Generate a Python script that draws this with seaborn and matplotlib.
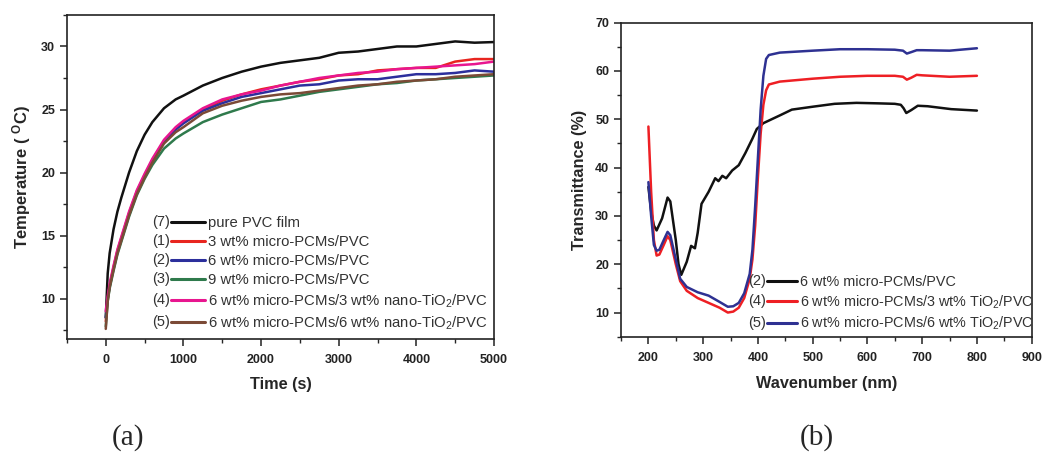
import numpy as np
import pandas as pd
import matplotlib
matplotlib.use("Agg")
import matplotlib.pyplot as plt
import seaborn as sns
from matplotlib.ticker import MultipleLocator

# ---------------- data (a) ----------------
time_s = [0, 25, 50, 100, 150, 200, 300, 400, 500, 600, 750, 900, 1000, 1250, 1500,
          1750, 2000, 2250, 2500, 2750, 3000, 3250, 3500, 3750, 4000, 4250, 4500, 4750, 5000]
t_pure = [8.5, 12.0, 13.6, 15.5, 16.9, 18.0, 20.0, 21.7, 23.0, 24.0, 25.1, 25.8, 26.1, 26.9, 27.5,
          28.0, 28.4, 28.7, 28.9, 29.1, 29.5, 29.6, 29.8, 30.0, 30.0, 30.2, 30.4, 30.3, 30.35]
t_3wt = [8.2, 10.0, 11.0, 12.5, 13.8, 14.8, 16.8, 18.5, 19.8, 21.0, 22.5, 23.5, 24.0, 25.0, 25.7,
         26.2, 26.6, 26.9, 27.2, 27.4, 27.7, 27.8, 28.1, 28.2, 28.3, 28.3, 28.8, 29.0, 29.0]
t_6wt = [8.5, 10.0, 11.0, 12.4, 13.7, 14.7, 16.7, 18.4, 19.7, 20.9, 22.4, 23.4, 23.9, 24.9, 25.5,
         26.0, 26.3, 26.6, 26.9, 27.0, 27.3, 27.4, 27.4, 27.6, 27.8, 27.8, 27.9, 28.1, 28.0]
t_9wt = [7.8, 9.8, 10.8, 12.2, 13.5, 14.5, 16.5, 18.2, 19.5, 20.6, 21.9, 22.7, 23.1, 24.0, 24.6,
         25.1, 25.6, 25.8, 26.1, 26.4, 26.6, 26.8, 27.0, 27.1, 27.3, 27.4, 27.5, 27.6, 27.7]
t_6_3ti = [9.0, 10.2, 11.2, 12.6, 13.9, 14.9, 16.9, 18.6, 19.9, 21.1, 22.6, 23.6, 24.1, 25.1, 25.8,
           26.2, 26.5, 26.9, 27.2, 27.5, 27.7, 27.9, 28.0, 28.2, 28.3, 28.4, 28.5, 28.6, 28.8]
t_6_6ti = [7.6, 9.8, 10.9, 12.3, 13.6, 14.6, 16.6, 18.3, 19.6, 20.8, 22.3, 23.2, 23.6, 24.7, 25.3,
           25.7, 26.0, 26.2, 26.3, 26.5, 26.7, 26.9, 27.0, 27.2, 27.3, 27.4, 27.6, 27.7, 27.8]

labels_a = ["pure PVC film", "3 wt% micro-PCMs/PVC", "6 wt% micro-PCMs/PVC",
            "9 wt% micro-PCMs/PVC", "6 wt% micro-PCMs/3 wt% nano-TiO$_2$/PVC",
            "6 wt% micro-PCMs/6 wt% nano-TiO$_2$/PVC"]
nums_a = ["(7)", "(1)", "(2)", "(3)", "(4)", "(5)"]
colors_a = ["#111111", "#e8251f", "#2c2f9c", "#2f7a4c", "#e8168f", "#7b4a36"]

# ---------------- data (b) ----------------
wl_black = [200, 205, 210, 215, 225, 235, 240, 250, 255, 260, 270, 278, 285, 290, 297, 310, 322,
            328, 335, 342, 353, 365, 377, 390, 398, 410, 425, 440, 462, 500, 540, 580, 619, 650,
            661, 666, 671, 680, 692, 710, 753, 800]
tr_black = [36.0, 31.0, 28.0, 27.0, 29.5, 33.8, 33.0, 25.0, 20.0, 17.8, 20.5, 23.8, 23.3, 26.5,
            32.5, 35.0, 37.8, 37.2, 38.3, 37.8, 39.4, 40.5, 43.0, 46.0, 48.0, 49.2, 50.0, 50.8,
            52.0, 52.6, 53.2, 53.4, 53.3, 53.2, 53.0, 52.3, 51.3, 51.9, 52.8, 52.7, 52.1, 51.8]
wl_ti = [200, 205, 210, 215, 220, 228, 235, 240, 250, 258, 270, 290, 310, 330, 345, 355, 365,
         375, 385, 390, 395, 400, 405, 410, 415, 420, 440, 500, 550, 600, 650, 665, 672, 680,
         690, 700, 750, 800]
tr_3ti = [48.5, 35.0, 25.0, 21.8, 22.0, 24.0, 25.8, 25.0, 20.0, 16.5, 14.5, 13.0, 12.0, 11.0,
          10.0, 10.2, 11.0, 13.0, 17.0, 21.0, 28.0, 38.0, 47.0, 53.0, 56.0, 57.2, 57.8, 58.4,
          58.8, 59.0, 59.0, 58.8, 58.2, 58.6, 59.2, 59.1, 58.8, 59.0]
tr_6ti = [37.0, 30.0, 24.0, 22.8, 23.0, 25.0, 26.7, 26.0, 21.0, 17.0, 15.3, 14.2, 13.5, 12.2,
          11.2, 11.3, 12.0, 14.0, 18.0, 23.0, 32.0, 42.0, 52.0, 59.0, 62.5, 63.3, 63.8, 64.2,
          64.5, 64.5, 64.4, 64.2, 63.6, 63.9, 64.3, 64.3, 64.2, 64.7]

labels_b = ["6 wt% micro-PCMs/PVC", "6 wt% micro-PCMs/3 wt% TiO$_2$/PVC",
            "6 wt% micro-PCMs/6 wt% TiO$_2$/PVC"]
nums_b = ["(2)", "(4)", "(5)"]
colors_b = ["#111111", "#ee1f24", "#2e3192"]

# ---------------- style ----------------
sns.set_theme(style="ticks")
plt.rcParams["font.family"] = ["Liberation Sans", "DejaVu Sans"]
plt.rcParams["mathtext.fontset"] = "custom"
plt.rcParams["mathtext.rm"] = "Liberation Sans"
plt.rcParams["mathtext.bf"] = "Liberation Sans:bold"
plt.rcParams["mathtext.it"] = "Liberation Sans:italic"

fig = plt.figure(figsize=(10.51, 4.53), dpi=100)
ax1 = fig.add_axes([0.0637, 0.2517, 0.4063, 0.7153])
ax2 = fig.add_axes([0.5909, 0.2567, 0.3907, 0.6933])

# panel (a)
series_a = [t_pure, t_3wt, t_6wt, t_9wt, t_6_3ti, t_6_6ti]
for vals, lab, col in zip(series_a, labels_a, colors_a):
    df = pd.DataFrame({"t": time_s, "T": vals})
    sns.lineplot(data=df, x="t", y="T", ax=ax1, color=col, lw=1.8, label=lab)
ax1.set_xlim(-500, 5000)
ax1.set_ylim(6.8, 32.5)
ax1.xaxis.set_major_locator(MultipleLocator(1000))
ax1.xaxis.set_minor_locator(MultipleLocator(500))
ax1.yaxis.set_major_locator(MultipleLocator(5))
ax1.yaxis.set_minor_locator(MultipleLocator(2.5))
ax1.set_xlabel("Time (s)", fontsize=11.7, fontweight="bold", labelpad=8)
ax1.set_ylabel("Temperature ( $\\mathbf{^{O}}$C)", fontsize=12, fontweight="bold", labelpad=6)

# panel (b)
series_b = [(wl_black, tr_black), (wl_ti, tr_3ti), (wl_ti, tr_6ti)]
for (xs, ys), lab, col in zip(series_b, labels_b, colors_b):
    df = pd.DataFrame({"w": xs, "T": ys})
    sns.lineplot(data=df, x="w", y="T", ax=ax2, color=col, lw=1.8, label=lab)
ax2.set_xlim(150, 900)
ax2.set_ylim(5, 70)
ax2.xaxis.set_major_locator(MultipleLocator(100))
ax2.xaxis.set_minor_locator(MultipleLocator(50))
ax2.yaxis.set_major_locator(MultipleLocator(10))
ax2.yaxis.set_minor_locator(MultipleLocator(5))
ax2.set_xlabel("Wavenumber (nm)", fontsize=11.7, fontweight="bold", labelpad=9)
ax2.set_ylabel("Transmittance (%)", fontsize=11.7, fontweight="bold", labelpad=6)

for ax in (ax1, ax2):
    for s in ax.spines.values():
        s.set_linewidth(1.2)
        s.set_color("#222222")
    ax.tick_params(which="major", direction="out", length=5, width=1.1, labelsize=9, colors="#222222")
    ax.tick_params(axis="x", which="major", pad=6)
    ax.tick_params(which="minor", direction="out", length=3, width=1.0)
    for lbl in ax.get_xticklabels() + ax.get_yticklabels():
        lbl.set_fontweight("bold")

leg1 = ax1.legend(loc="lower left", bbox_to_anchor=(0.223, -0.006), frameon=False, fontsize=10.7,
                  handlelength=2.3, handletextpad=0.2, labelspacing=0.34, borderaxespad=0.2)
leg2 = ax2.legend(loc="lower left", bbox_to_anchor=(0.334, -0.014), frameon=False, fontsize=10.4,
                  handlelength=2.1, handletextpad=0.2, labelspacing=0.3, borderaxespad=0.2)
for leg in (leg1, leg2):
    for t in leg.get_texts():
        t.set_color("#333333")
    for h in leg.legend_handles:
        h.set_linewidth(2.2)

fig.canvas.draw()
renderer = fig.canvas.get_renderer()
inv = fig.transFigure.inverted()
for leg, nums in ((leg1, nums_a), (leg2, nums_b)):
    for txt, h, n in zip(leg.get_texts(), leg.legend_handles, nums):
        hb = h.get_window_extent(renderer)
        yc = (hb.y0 + hb.y1) / 2
        fx, fy = inv.transform((hb.x0 - 1, yc))
        fig.text(fx, fy, n, ha="right", va="center", fontsize=10.5, color="#333333")

fig.text(0.122, 0.035, "(a)", ha="center", va="center", fontsize=21,
         family=["Liberation Serif", "DejaVu Serif"])
fig.text(0.777, 0.035, "(b)", ha="center", va="center", fontsize=21,
         family=["Liberation Serif", "DejaVu Serif"])

fig.savefig("out.png", dpi=100)
